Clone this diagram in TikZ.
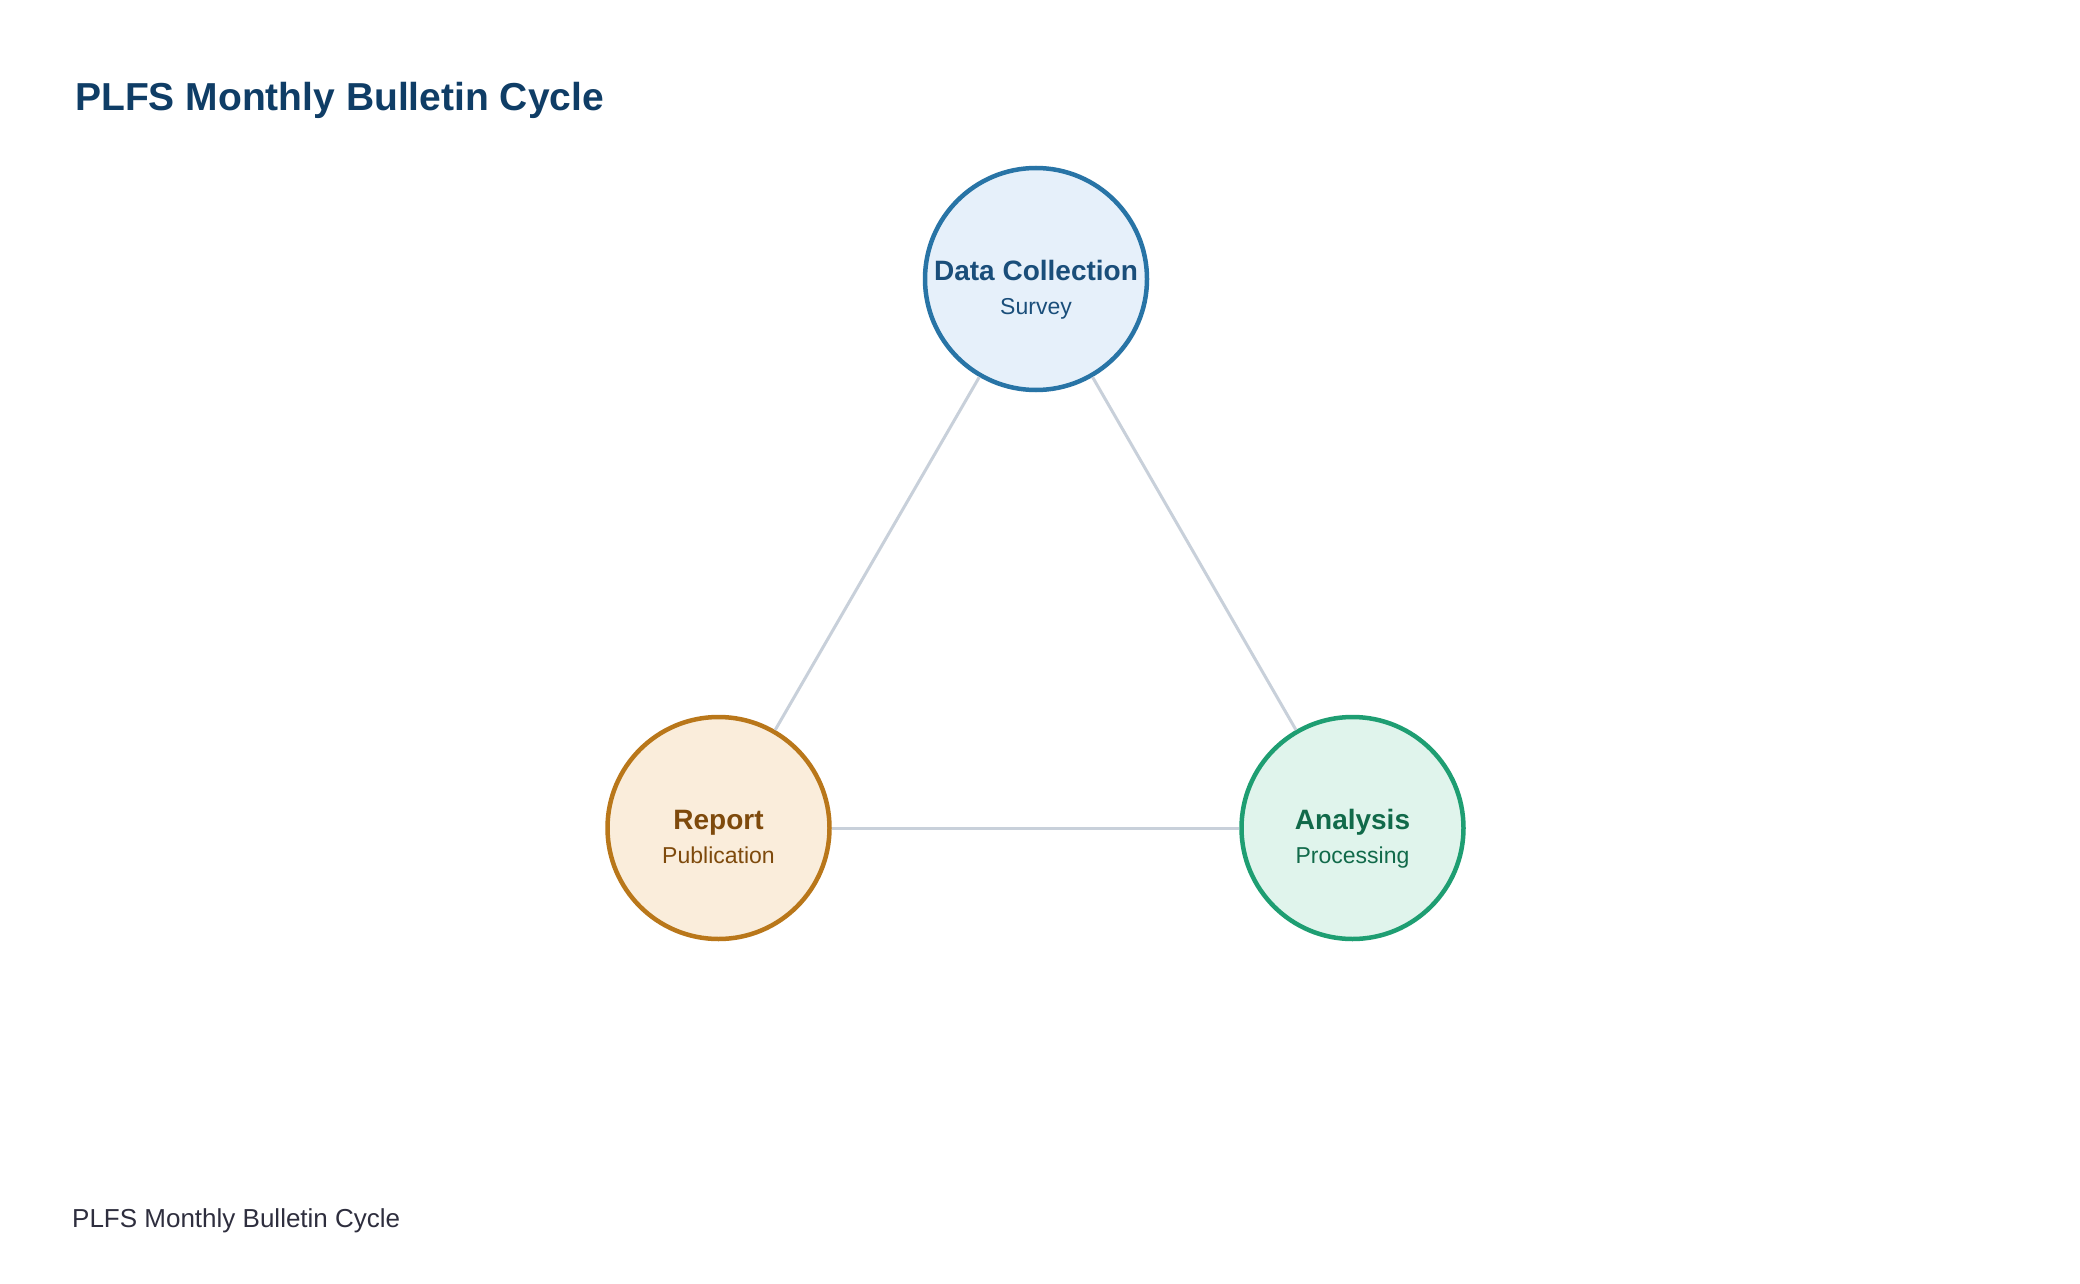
\documentclass[tikz,border=0pt]{standalone}
\usepackage{fontspec}
\setmainfont{Liberation Sans}
\definecolor{titlec}{HTML}{0F3D66}
\definecolor{footc}{HTML}{2E2E3E}
\definecolor{edgec}{HTML}{C8D0DA}
\definecolor{bstroke}{HTML}{2874A6}
\definecolor{bfill}{HTML}{E6F0FA}
\definecolor{btext}{HTML}{1A4E7A}
\definecolor{ostroke}{HTML}{B9771A}
\definecolor{ofill}{HTML}{FAEDDB}
\definecolor{otext}{HTML}{7E4A0C}
\definecolor{gstroke}{HTML}{1E9E72}
\definecolor{gfill}{HTML}{E0F4EC}
\definecolor{gtext}{HTML}{116A4A}
\begin{document}
\begin{tikzpicture}[x=1pt,y=-1pt,
  stage/.style={circle,minimum size=222pt,inner sep=0pt,line width=4.5pt},
  edge/.style={draw=edgec,line width=3pt},
  lbl/.style={anchor=base,inner sep=0pt}]
\path[fill=white] (0,0) rectangle (2080,1284);
\useasboundingbox (0,0) rectangle (2080,1284);
\node[anchor=base west,inner sep=0pt,text=titlec,font=\fontsize{39}{46}\selectfont\bfseries] (title) at (75,110.5) {PLFS Monthly Bulletin Cycle};
\node[anchor=base west,inner sep=0pt,text=footc,font=\fontsize{26}{31}\selectfont] (foot) at (72,1227.5) {PLFS Monthly Bulletin Cycle};
\node[stage,draw=bstroke,fill=bfill] (dc) at (1036,279) {};
\node[stage,draw=ostroke,fill=ofill] (rp) at (718.5,828) {};
\node[stage,draw=gstroke,fill=gfill] (an) at (1352.5,828) {};
\draw[edge] (dc) -- (an);
\draw[edge] (an) -- (rp);
\draw[edge] (rp) -- (dc);
\node[lbl,text=btext,font=\fontsize{28}{32}\selectfont\bfseries] (dct) at (1036,280) {Data Collection};
\node[lbl,text=btext,font=\fontsize{23}{27}\selectfont] (dcs) at (1036,314) {Survey};
\node[lbl,text=otext,font=\fontsize{28}{32}\selectfont\bfseries] (rpt) at (718.5,829) {Report};
\node[lbl,text=otext,font=\fontsize{23}{27}\selectfont] (rps) at (718.5,863) {Publication};
\node[lbl,text=gtext,font=\fontsize{28}{32}\selectfont\bfseries] (ant) at (1352.5,829) {Analysis};
\node[lbl,text=gtext,font=\fontsize{23}{27}\selectfont] (ans) at (1352.5,863) {Processing};
\end{tikzpicture}
\end{document}
